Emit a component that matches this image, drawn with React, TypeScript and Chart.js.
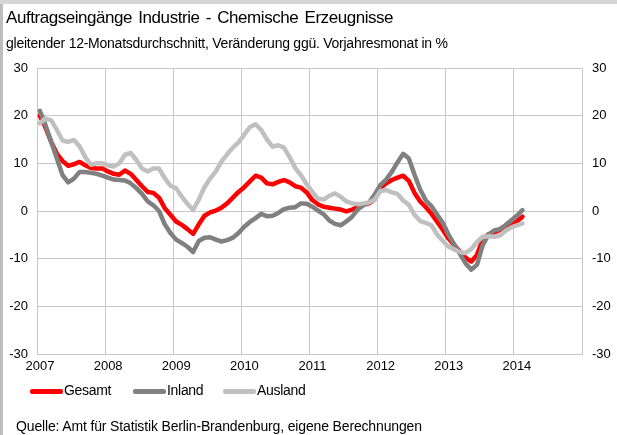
import React, { useEffect, useRef } from 'react';
import { Chart, registerables } from 'chart.js';

Chart.register(...registerables);

const YEAR_LABELS = ['2007', '2008', '2009', '2010', '2011', '2012', '2013', '2014'];
const Y_TICKS = [-30, -20, -10, 0, 10, 20, 30];
const SERIES_NAMES = ['Gesamt', 'Inland', 'Ausland'];

// monthly values Jan 2007 .. Feb 2014
const gesamt = [
  20.0, 17.5, 14.5, 12.0, 10.5, 9.5, 9.8, 10.3, 9.6, 9.0, 8.9, 8.9,
  8.3, 7.8, 7.6, 8.5, 7.8, 6.5, 5.2, 4.0, 3.8, 2.8, 0.6, -0.8,
  -2.2, -2.9, -3.8, -4.8, -2.8, -1.0, -0.3, 0.1, 0.7, 1.6, 2.8, 4.0,
  5.0, 6.2, 7.4, 7.0, 5.8, 5.6, 6.1, 6.5, 6.0, 5.2, 4.9, 3.9,
  2.3, 1.4, 0.9, 0.7, 0.5, 0.3, -0.1, 0.3, 0.8, 1.3, 1.6, 2.5,
  4.8, 5.8, 6.5, 7.0, 7.4, 6.3, 3.8, 2.0, 0.8, -0.6, -2.3, -4.0,
  -5.8, -7.2, -8.5, -9.8, -10.6, -9.2, -6.0, -4.9, -4.5, -4.0, -3.6, -3.2,
  -2.2, -1.2,
];
const inland = [
  21.0, 18.0, 14.5, 11.0, 7.5, 6.0, 6.8, 8.2, 8.2, 8.0, 7.8, 7.4,
  7.0, 6.6, 6.5, 6.4, 5.8, 4.8, 3.6, 2.0, 1.2, 0.0, -2.8, -4.6,
  -6.0, -6.7, -7.5, -8.6, -6.3, -5.6, -5.5, -6.0, -6.4, -6.1, -5.6, -4.6,
  -3.3, -2.3, -1.5, -0.6, -1.1, -1.0, -0.4, 0.4, 0.7, 0.8, 1.6, 1.5,
  0.9, 0.1, -0.7, -2.0, -2.7, -3.0, -2.2, -1.2, 0.3, 1.2, 1.8, 3.5,
  5.5, 6.6, 8.2, 10.2, 12.0, 11.0, 7.6, 4.5, 2.2, 1.0, -0.8, -2.5,
  -5.0, -7.0, -9.0, -11.0, -12.3, -11.3, -7.2, -5.0, -4.1, -3.8, -3.0, -2.0,
  -1.0, 0.2,
];
const ausland = [
  18.4, 19.4, 19.0, 17.0, 14.8, 14.5, 14.9, 13.6, 11.3, 9.7, 10.0, 10.0,
  9.6, 9.3, 10.0, 11.8, 12.2, 10.7, 8.9, 8.3, 8.9, 8.9, 6.9, 5.3,
  4.8, 3.0, 1.5, 0.2, 2.4, 5.0, 6.8, 8.3, 10.4, 11.9, 13.3, 14.4,
  16.0, 17.6, 18.2, 17.0, 15.0, 13.5, 13.8, 13.3, 11.3, 9.0, 7.5, 5.6,
  4.0, 2.6, 2.4, 3.2, 3.7, 3.0, 2.0, 1.6, 1.4, 1.6, 1.8, 2.4,
  4.2, 4.4, 3.9, 3.6, 2.2, 1.3, -0.8, -2.1, -2.5, -3.0, -5.0, -6.3,
  -7.5, -8.1, -8.6, -8.8, -8.0, -6.5, -5.4, -5.3, -5.4, -5.2, -4.2, -3.5,
  -3.0, -2.6,
];

const COLORS = ['#ff0000', '#808080', '#c0c0c0'];
const FONT = '"Liberation Sans", Arial, sans-serif';
const GRID = '#c8c8c8';

export default function App() {
  const ref = useRef<HTMLCanvasElement>(null);

  useEffect(() => {
    document.body.style.margin = '0';
    const toPts = (arr: number[]) => arr.map((v, i) => ({ x: i + 0.5, y: v }));
    const values = [gesamt, inland, ausland];
    const chart = new Chart(ref.current as HTMLCanvasElement, {
      type: 'line',
      data: {
        datasets: SERIES_NAMES.map((name, i) => ({
          label: name,
          data: toPts(values[i]),
          borderColor: COLORS[i],
          backgroundColor: COLORS[i],
          borderWidth: 4.5,
          pointRadius: 0,
          tension: 0,
          borderJoinStyle: 'round' as const,
          borderCapStyle: 'round' as const,
          order: 2 - i,
        })),
      },
      options: {
        animation: false,
        responsive: false,
        maintainAspectRatio: false,
        layout: { padding: { top: 68, left: 0, right: 0, bottom: 0 } },
        plugins: { legend: { display: false }, tooltip: { enabled: false } },
        scales: {
          x: {
            type: 'linear',
            min: 0,
            max: 96,
            afterBuildTicks: (s: any) => {
              s.ticks = YEAR_LABELS.map((_, i) => ({ value: i * 12 })).concat([{ value: 96 }]);
            },
            ticks: {
              autoSkip: false,
              maxRotation: 0,
              labelOffset: 3,
              padding: 5,
              color: '#000',
              font: { family: FONT, size: 13 },
              callback: (v: any) => {
                const idx = Math.round(Number(v) / 12);
                return idx < YEAR_LABELS.length ? YEAR_LABELS[idx] : '';
              },
            },
            grid: { color: GRID, drawTicks: false },
            border: { color: GRID },
            afterFit: (s: any) => { s.height = 81; },
          },
          y: {
            position: 'left',
            min: -30,
            max: 30,
            afterBuildTicks: (s: any) => { s.ticks = Y_TICKS.map((v) => ({ value: v })); },
            ticks: { padding: 9, color: '#000', font: { family: FONT, size: 13 } },
            grid: { color: GRID, drawTicks: false },
            border: { color: GRID },
            afterFit: (s: any) => { s.width = 37; },
          },
          y2: {
            position: 'right',
            min: -30,
            max: 30,
            afterBuildTicks: (s: any) => { s.ticks = Y_TICKS.map((v) => ({ value: v })); },
            ticks: { padding: 10, color: '#000', font: { family: FONT, size: 13 } },
            grid: { display: false, drawTicks: false },
            border: { display: false },
            afterFit: (s: any) => { s.width = 35; },
          },
        },
      },
    });
    return () => chart.destroy();
  }, []);

  const legendItems = [
    { x: 30, textX: 64 },
    { x: 133, textX: 167 },
    { x: 223, textX: 257 },
  ];

  return (
    <div style={{ position: 'relative', width: 617, height: 435, overflow: 'hidden', background: '#fff', fontFamily: FONT, color: '#000' }}>
      <canvas ref={ref} width={617} height={435} style={{ position: 'absolute', left: 0, top: 0, width: 617, height: 435 }} />
      <div style={{ position: 'absolute', left: 0, top: 0, width: 617, height: 4, background: '#d6d6d6' }} />
      <div style={{ position: 'absolute', left: 0, top: 4, width: 3, height: 431, background: '#bdbdbd' }} />
      <div style={{ position: 'absolute', left: 6, top: 8, fontSize: 17, whiteSpace: 'nowrap', letterSpacing: -0.45, wordSpacing: 2 }}>
        Auftragseingänge Industrie - Chemische Erzeugnisse
      </div>
      <div style={{ position: 'absolute', left: 6, top: 35, fontSize: 14, whiteSpace: 'nowrap', letterSpacing: -0.25 }}>
        gleitender 12-Monatsdurchschnitt, Veränderung ggü. Vorjahresmonat in %
      </div>
      {SERIES_NAMES.map((name, i) => (
        <React.Fragment key={name}>
          <div style={{ position: 'absolute', left: legendItems[i].x, top: 389, width: 33, height: 4.5, borderRadius: 2, background: COLORS[i] }} />
          <div style={{ position: 'absolute', left: legendItems[i].textX, top: 382, fontSize: 14, whiteSpace: 'nowrap', letterSpacing: -0.3 }}>
            {name}
          </div>
        </React.Fragment>
      ))}
      <div style={{ position: 'absolute', left: 16, top: 418, fontSize: 14, whiteSpace: 'nowrap', letterSpacing: -0.15 }}>
        Quelle: Amt für Statistik Berlin-Brandenburg, eigene Berechnungen
      </div>
    </div>
  );
}
